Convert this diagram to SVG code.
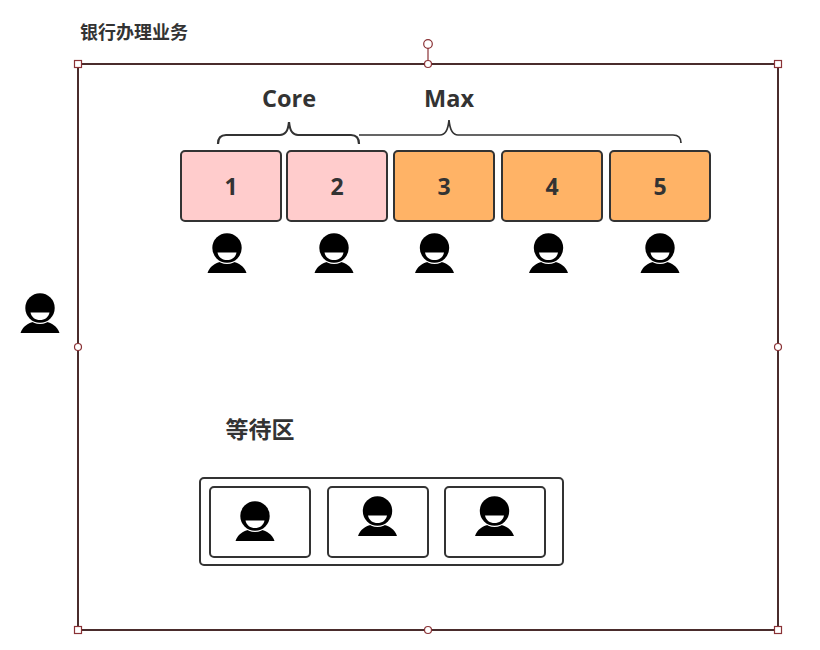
<svg xmlns="http://www.w3.org/2000/svg" width="820" height="650" viewBox="0 0 820 650">
<style>
text{font-family:"Open Sans","Noto Sans","Noto Sans CJK SC",sans-serif;font-weight:700;fill:#333;text-anchor:middle}
.cjk{font-family:"Noto Sans CJK SC","Noto Sans",sans-serif}
.box{stroke:#333;stroke-width:2}
.pink{fill:#ffcccc}
.orange{fill:#ffb366}
.plain{fill:#fff}
.brace{fill:none;stroke:#333;stroke-width:1.700}
.frame{fill:none;stroke:#4a2c2c;stroke-width:2}
.h{fill:#fff;stroke:#8a3236;stroke-width:1.200}
.num{font-size:23px}
.lab{font-size:23.500px}
</style>
<defs>
<g id="person">
<path d="M-19.500 25C-17 18-12 15.500-7 14H7C12 15.500 17 18 19.500 25Z" fill="#000"/>
<circle r="16" fill="#fff"/>
<circle r="14.700" fill="#000"/>
<path d="M-9.500 4.500H9.500C8.500 9.500 4.500 12 0 12C-4.500 12-8.500 9.500-9.500 4.500Z" fill="#fff"/>
</g>
</defs>
<rect width="820" height="650" fill="#fff"/>
<text class="cjk" x="134" y="38.500" font-size="18">银行办理业务</text>
<g id="frame">
<rect class="frame" x="78" y="64" width="700" height="566"/>
<path d="M428 48V64" stroke="#8a3236" stroke-width="1.200" fill="none"/>
<circle class="h" cx="428" cy="44" r="4.300"/>
<circle class="h" cx="428" cy="64" r="3.500"/>
<circle class="h" cx="78" cy="347" r="3.500"/>
<circle class="h" cx="778" cy="347" r="3.500"/>
<circle class="h" cx="428" cy="630" r="3.500"/>
<rect class="h" x="74.500" y="60.500" width="7" height="7"/>
<rect class="h" x="774.500" y="60.500" width="7" height="7"/>
<rect class="h" x="74.500" y="626.500" width="7" height="7"/>
<rect class="h" x="774.500" y="626.500" width="7" height="7"/>
</g>
<g id="connectors">
<path class="brace" d="M359 135H440C445 135 448 131 449 120C450 131 453 135 458 135H673C678 135 681 138 681 143"/>
<path class="brace" style="stroke-width:2.200" d="M218 144C218 138 221 135 226 135H280C285 135 288 132 289 122C290 132 293 135 298 135H351C356 135 359 138 359 144"/>
</g>
<g id="label-core"><text class="lab" x="289" y="107">Core</text></g>
<g id="label-max"><text class="lab" x="449" y="107">Max</text></g>
<g id="node-1"><rect class="box pink" x="181" y="151" width="100" height="70" rx="4"/><text class="num" x="231" y="195">1</text></g>
<g id="node-2"><rect class="box pink" x="287" y="151" width="100" height="70" rx="4"/><text class="num" x="337" y="195">2</text></g>
<g id="node-3"><rect class="box orange" x="394" y="151" width="100" height="70" rx="4"/><text class="num" x="444" y="195">3</text></g>
<g id="node-4"><rect class="box orange" x="502" y="151" width="100" height="70" rx="4"/><text class="num" x="552" y="195">4</text></g>
<g id="node-5"><rect class="box orange" x="610" y="151" width="100" height="70" rx="4"/><text class="num" x="660" y="195">5</text></g>
<g id="person-1"><use href="#person" x="227" y="248"/></g>
<g id="person-2"><use href="#person" x="334" y="248"/></g>
<g id="person-3"><use href="#person" x="434.500" y="248"/></g>
<g id="person-4"><use href="#person" x="548.500" y="248"/></g>
<g id="person-5"><use href="#person" x="660" y="248"/></g>
<g id="person-outside"><use href="#person" x="40" y="308"/></g>
<g id="label-wait"><text class="cjk" x="260" y="438" font-size="23">等待区</text></g>
<g id="queue"><rect class="box plain" x="200" y="478" width="363" height="87" rx="4"/></g>
<g id="slot-1"><rect class="box plain" x="210" y="487" width="100" height="70" rx="4"/><use href="#person" x="255" y="516"/></g>
<g id="slot-2"><rect class="box plain" x="328" y="487" width="100" height="70" rx="4"/><use href="#person" x="377.500" y="511"/></g>
<g id="slot-3"><rect class="box plain" x="445" y="487" width="100" height="70" rx="4"/><use href="#person" x="494.500" y="511"/></g>
</svg>
